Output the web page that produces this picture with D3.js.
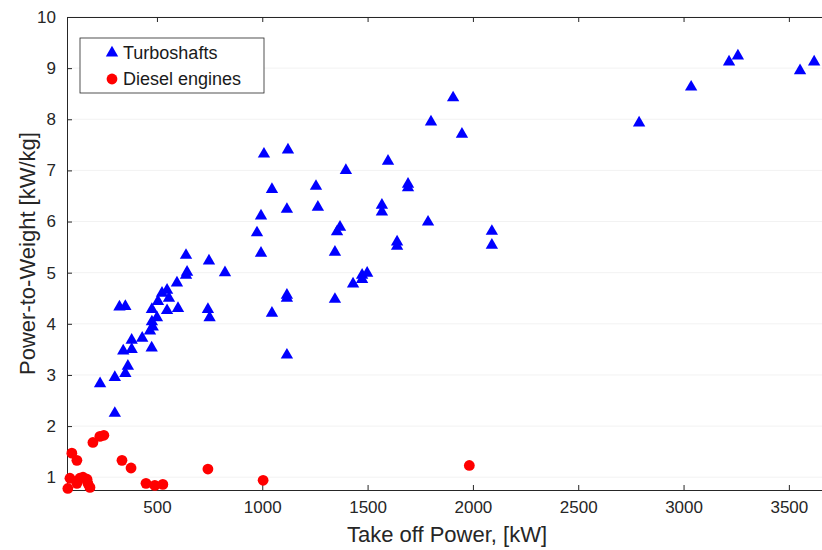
<!DOCTYPE html>
<meta charset="utf-8">
<style>
    body {
        margin: 0;
        font-family: "Liberation Sans", Arial, Helvetica, sans-serif;
        background: white;
    }

    svg {
        display: block;
    }

    .axis path,
    .axis line {
        stroke: #262626;
    }

    .axis text {
        font-size: 17px;
        fill: #262626;
    }

    .grid line {
        stroke: #f2f2f2;
    }

    .label {
        font-size: 22px;
        fill: #262626;
    }

    .legendText {
        font-size: 18px;
        fill: #1a1a1a;
    }
</style>

<body>
    <script src="https://d3js.org/d3.v7.min.js"></script>
    <script>

        // Turboshafts: take off power [kW], power-to-weight [kW/kg]
        var turboPower = [230, 300, 300, 350, 362, 340, 380, 380, 430, 475,
            322, 350, 467, 480, 476, 500, 476, 505, 548, 524,
            548, 557, 595, 600, 638, 643, 638, 742, 750, 747,
            823, 975, 994, 994, 1008, 1046, 1046, 1117, 1117, 1117,
            1117, 1122, 1255, 1264, 1345, 1345, 1355, 1369, 1397, 1431,
            1474, 1474, 1498, 1568, 1568, 1597, 1640, 1640, 1692, 1692,
            1787, 1801, 1906, 1948, 2090, 2090, 2789, 3036, 3216, 3258,
            3553, 3620];
        var turboRatio = [2.83, 2.25, 2.95, 3.03, 3.17, 3.47, 3.50, 3.68, 3.72, 3.53,
            4.33, 4.34, 3.86, 3.94, 4.04, 4.12, 4.28, 4.44, 4.26, 4.60,
            4.66, 4.50, 4.80, 4.30, 4.95, 5.01, 5.34, 4.28, 4.12, 5.23,
            5.00, 5.78, 5.38, 6.11, 7.32, 6.63, 4.21, 6.24, 4.56, 4.50,
            3.39, 7.40, 6.69, 6.28, 5.40, 4.48, 5.80, 5.89, 7.00, 4.78,
            4.87, 4.95, 4.99, 6.32, 6.19, 7.18, 5.60, 5.52, 6.73, 6.66,
            5.99, 7.95, 8.42, 7.71, 5.81, 5.54, 7.93, 8.63, 9.12, 9.24,
            8.95, 9.12];

        // Diesel engines
        var dieselPower = [96, 120, 196, 229, 248, 334, 377, 742, 1004, 448,
            490, 528, 87, 77, 134, 149, 168, 182, 120, 172, 1983];
        var dieselRatio = [1.47, 1.33, 1.68, 1.80, 1.82, 1.33, 1.18, 1.16, 0.94, 0.88,
            0.84, 0.86, 0.98, 0.78, 0.98, 1.00, 0.96, 0.80, 0.88, 0.88, 1.23];

        var xTicks = [500, 1000, 1500, 2000, 2500, 3000, 3500];
        var yTicks = [1, 2, 3, 4, 5, 6, 7, 8, 9, 10];
        var seriesNames = ["Turboshafts", "Diesel engines"];

        var width = 822,
            height = 550,
            plotLeft = 67,
            plotTop = 17,
            plotBottom = 490,
            plotRight = 831;

        var svg = d3.select("body")
            .append("svg")
            .attr("width", width)
            .attr("height", height);

        var x = d3.scaleLinear()
            .domain([73, 3700])
            .range([plotLeft, plotRight]);

        var y = d3.scaleLinear()
            .domain([0.75, 10])
            .range([plotBottom, plotTop]);

        /* ------- GRID -------*/

        svg.append("g")
            .attr("class", "grid")
            .selectAll("line")
            .data(yTicks)
            .enter()
            .append("line")
            .attr("x1", plotLeft)
            .attr("x2", plotRight)
            .attr("y1", function (d) { return y(d); })
            .attr("y2", function (d) { return y(d); });

        /* ------- AXES -------*/

        svg.append("g")
            .attr("class", "axis")
            .attr("transform", "translate(0," + plotBottom + ")")
            .call(d3.axisBottom(x).tickValues(xTicks).tickFormat(d3.format("d"))
                .tickSizeInner(-5).tickSizeOuter(0).tickPadding(11));

        svg.append("g")
            .attr("class", "axis")
            .attr("transform", "translate(0," + plotTop + ")")
            .call(d3.axisTop(x).tickValues(xTicks).tickSizeInner(-5).tickSizeOuter(0))
            .call(function (g) { g.selectAll("text").remove(); });

        svg.append("g")
            .attr("class", "axis")
            .attr("transform", "translate(" + plotLeft + ",0)")
            .call(d3.axisLeft(y).tickValues(yTicks).tickSizeInner(-5).tickSizeOuter(0).tickPadding(11));

        /* ------- POINTS -------*/

        var turbo = turboPower.map(function (p, i) { return [p, turboRatio[i]]; });
        var diesel = dieselPower.map(function (p, i) { return [p, dieselRatio[i]]; });

        var triangle = d3.symbol().type(d3.symbolTriangle).size(66);

        svg.append("g")
            .selectAll("path")
            .data(turbo)
            .enter()
            .append("path")
            .attr("d", triangle)
            .attr("fill", "#0000ff")
            .attr("transform", function (d) { return "translate(" + x(d[0]) + "," + y(d[1]) + ")"; });

        svg.append("g")
            .selectAll("circle")
            .data(diesel)
            .enter()
            .append("circle")
            .attr("r", 5.4)
            .attr("fill", "#ff0000")
            .attr("cx", function (d) { return x(d[0]); })
            .attr("cy", function (d) { return y(d[1]); });

        /* ------- LABELS -------*/

        svg.append("text")
            .attr("class", "label")
            .attr("x", 447)
            .attr("y", 542)
            .attr("text-anchor", "middle")
            .text("Take off Power, [kW]");

        svg.append("text")
            .attr("class", "label")
            .attr("transform", "translate(35," + (plotTop + plotBottom) / 2 + ") rotate(-90)")
            .attr("text-anchor", "middle")
            .text("Power-to-Weight [kW/kg]");

        /* ------- LEGEND -------*/

        var legend = svg.append("g").attr("transform", "translate(80,38)");

        legend.append("rect")
            .attr("width", 184)
            .attr("height", 55)
            .attr("fill", "white")
            .attr("stroke", "#262626")
            .attr("stroke-width", 0.8);

        legend.append("path")
            .attr("d", triangle)
            .attr("fill", "#0000ff")
            .attr("transform", "translate(32,15)");

        legend.append("circle")
            .attr("r", 5.4)
            .attr("fill", "#ff0000")
            .attr("cx", 32)
            .attr("cy", 41);

        legend.selectAll("text")
            .data(seriesNames)
            .enter()
            .append("text")
            .attr("class", "legendText")
            .attr("x", 43)
            .attr("y", function (d, i) { return 21 + i * 26; })
            .text(function (d) { return d; });

    </script>
</body>
